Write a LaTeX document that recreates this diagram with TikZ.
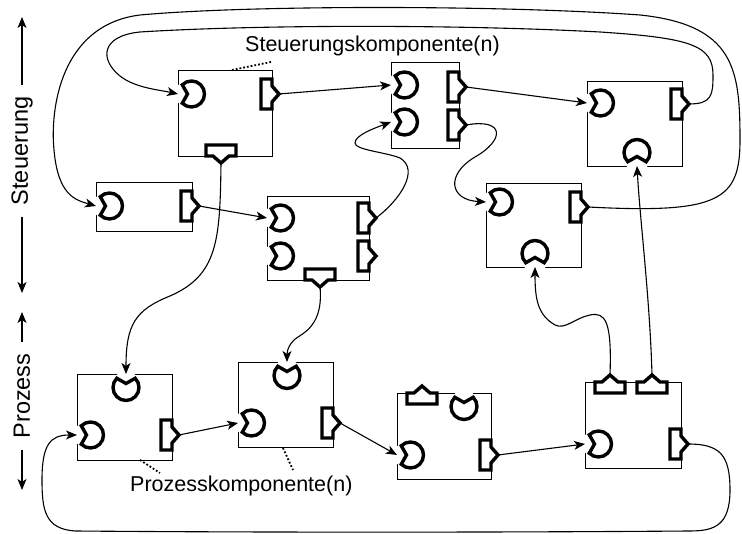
\documentclass[tikz,border=0pt]{standalone}
\usepackage{fontspec}
\setmainfont{Liberation Sans}
\usetikzlibrary{arrows.meta}
\begin{document}
\begin{tikzpicture}[x=1pt,y=1pt,
  comp/.style={draw, line width=0.8pt, fill=white, inner sep=0pt, outer sep=0pt},
  port/.style={line width=3.4pt, line join=miter, fill=white},
  conn/.style={line width=1.1pt, -{Stealth[length=11pt,width=9pt,inset=3pt]}},
  axarrow/.style={line width=1.1pt, -{Stealth[length=11pt,width=9pt,inset=3pt]}},
  leader/.style={line width=1.8pt, dotted},
  lbl/.style={font=\fontsize{21.5}{24}\selectfont, inner sep=0pt},
  axlbl/.style={font=\fontsize{23.5}{26}\selectfont, inner sep=0pt, rotate=90},
  socket/.pic={
    \fill[white] (4,0) -- (15,-11) -- (15,11) -- cycle;
    \draw[port] (45:13) arc[start angle=45, end angle=315, radius=13] -- (0:4) -- cycle;
  },
  plug/.pic={
    \draw[port] (-11,-15) -- (0,-15) -- (0,-8) -- (7,0) -- (0,8) -- (0,15) -- (-11,15) -- cycle;
  }]
\useasboundingbox (0,0) rectangle (742,534);

% ---- components ----
\node[comp, minimum width=94pt,  minimum height=86pt] (A) at (225,421) {};
\node[comp, minimum width=96pt,  minimum height=49pt] (B) at (144,327.5) {};
\node[comp, minimum width=102pt, minimum height=84pt] (C) at (318,296) {};
\node[comp, minimum width=68pt,  minimum height=86pt] (D) at (425,429) {};
\node[comp, minimum width=95pt,  minimum height=85pt] (E) at (634.5,410.5) {};
\node[comp, minimum width=95pt,  minimum height=84pt] (F) at (533.5,309) {};
\node[comp, minimum width=95pt,  minimum height=86pt] (G) at (124.5,117) {};
\node[comp, minimum width=95pt,  minimum height=85pt] (H) at (285.5,129.5) {};
\node[comp, minimum width=94pt,  minimum height=86pt] (I) at (444,98) {};
\node[comp, minimum width=96pt,  minimum height=86pt] (J) at (633,109) {};

% ---- ports ----
% A
\pic[rotate=180] at (191.5,440) {socket};
\pic at (272,440) {plug};
\pic[rotate=-90] at (221,378) {plug};
\coordinate (A-in) at (178,440);
\coordinate (A-out) at (279,440);
\coordinate (A-down) at (221,371);
% B
\pic[rotate=180] at (109.5,328) {socket};
\pic at (192,328) {plug};
\coordinate (B-in) at (96,328);
\coordinate (B-out) at (199,328);
% C
\pic[rotate=180] at (280.5,316) {socket};
\pic[rotate=180] at (280.5,278) {socket};
\pic at (369,316) {plug};
\pic at (369,278) {plug};
\pic[rotate=-90] at (320,254) {plug};
\coordinate (C-in1) at (267,316);
\coordinate (C-out1) at (376,316);
\coordinate (C-down) at (320,247);
% D
\pic[rotate=180] at (404.5,449) {socket};
\pic[rotate=180] at (404.5,412) {socket};
\pic at (459,447) {plug};
\pic at (459,409) {plug};
\coordinate (D-in1) at (391,449);
\coordinate (D-in2) at (391,412);
\coordinate (D-out1) at (466,447);
\coordinate (D-out2) at (466,409);
% E
\pic[rotate=180] at (600.5,431) {socket};
\pic at (682,430) {plug};
\pic[rotate=-90] at (637,381.5) {socket};
\coordinate (E-in) at (587,431);
\coordinate (E-out) at (689,430);
\coordinate (E-up) at (637,368);
% F
\pic[rotate=180] at (499.5,332) {socket};
\pic at (581,327) {plug};
\pic[rotate=-90] at (535,280.5) {socket};
\coordinate (F-in) at (486,332);
\coordinate (F-out) at (588,327);
\coordinate (F-up) at (535,267);
% G
\pic[rotate=90] at (126,146.5) {socket};
\pic[rotate=180] at (90.5,99) {socket};
\pic at (172,99) {plug};
\coordinate (G-top) at (126,160);
\coordinate (G-in) at (77,99);
\coordinate (G-out) at (179,99);
% H
\pic[rotate=90] at (287,158.5) {socket};
\pic[rotate=180] at (251.5,111) {socket};
\pic at (333,111) {plug};
\coordinate (H-top) at (287,172);
\coordinate (H-in) at (238,111);
\coordinate (H-out) at (340,111);
% I
\pic[rotate=90] at (422,141) {plug};
\pic[rotate=90] at (464,127.5) {socket};
\pic[rotate=180] at (410.5,79) {socket};
\pic at (491,79) {plug};
\coordinate (I-in) at (397,79);
\coordinate (I-out) at (498,79);
% J
\pic[rotate=90] at (610,152) {plug};
\pic[rotate=90] at (652,152) {plug};
\pic[rotate=180] at (598.5,90) {socket};
\pic at (681,90) {plug};
\coordinate (J-up1) at (610,159);
\coordinate (J-up2) at (652,159);
\coordinate (J-in) at (585,90);
\coordinate (J-out) at (688,90);

% ---- connectors ----
\draw[conn] (A-out) -- (D-in1);
\draw[conn] (D-out1) -- (E-in);
\draw[conn] (B-out) -- (C-in1);
\draw[conn] (G-out) -- (H-in);
\draw[conn] (H-out) -- (I-in);
\draw[conn] (I-out) -- (J-in);
\draw[conn] (D-out2) .. controls (505,416) and (505,394) .. (475,377)
                     .. controls (445,359) and (450,334) .. (F-in);
\draw[conn] (C-out1) .. controls (400,334) and (420,364) .. (400,376)
                     .. controls (385,382) and (355,384) .. (355,391)
                     .. controls (355,399) and (375,406) .. (D-in2);
\draw[conn] (A-down) .. controls (220,294) and (218,259) .. (170,238)
                     .. controls (135,224) and (126,209) .. (G-top);
\draw[conn] (C-down) .. controls (323,216) and (310,204) .. (298,197)
                     .. controls (290,192) and (287,184) .. (H-top);
\draw[conn] (J-up1) .. controls (612,214) and (605,222) .. (590,219)
                    .. controls (575,216) and (565,204) .. (555,209)
                    .. controls (538,219) and (535,234) .. (F-up);
\draw[conn] (J-up2) .. controls (650,234) and (640,314) .. (E-up);
% outer feedback loop
\draw[conn] (F-out) .. controls (720,320) and (740,334) .. (740,394)
                    .. controls (740,464) and (735,509) .. (640,519)
                    .. controls (500,529) and (250,529) .. (140,519)
                    .. controls (60,509) and (50,424) .. (54,384)
                    .. controls (58,339) and (75,334) .. (B-in);
% inner feedback loop
\draw[conn] (E-out) .. controls (712,430) and (713,439) .. (713,459)
                    .. controls (713,489) and (690,496) .. (600,502)
                    .. controls (450,510) and (250,509) .. (140,502)
                    .. controls (100,498) and (100,474) .. (120,458)
                    .. controls (135,446) and (160,444) .. (A-in);
% process feedback loop
\draw[conn] (J-out) .. controls (720,90) and (730,79) .. (730,44)
                    .. controls (730,9) and (715,3) .. (690,3)
                    .. controls (500,1.5) and (250,1.5) .. (75,3)
                    .. controls (45,5) and (42,24) .. (42,54)
                    .. controls (42,89) and (50,99) .. (G-in);

% ---- labels ----
\node[lbl, anchor=base west] (steuerlbl) at (245,482) {Steuerungskomponente(n)};
\node[lbl, anchor=base west] (prozlbl) at (130,42) {Prozesskomponente(n)};
\draw[leader] (232,464) -- (271,472);
\draw[leader] (140,74) -- (160,61);
\draw[leader] (283,86) -- (293,64);

% ---- side axis ----
\node[axlbl] (axS) at (22,383) {Steuerung};
\node[axlbl] (axP) at (22,138) {Prozess};
\draw[axarrow] (22,449) -- (22,517);
\draw[axarrow] (22,317) -- (22,241);
\draw[axarrow] (22,192) -- (22,222);
\draw[axarrow] (22,84) -- (22,44);
\end{tikzpicture}
\end{document}
